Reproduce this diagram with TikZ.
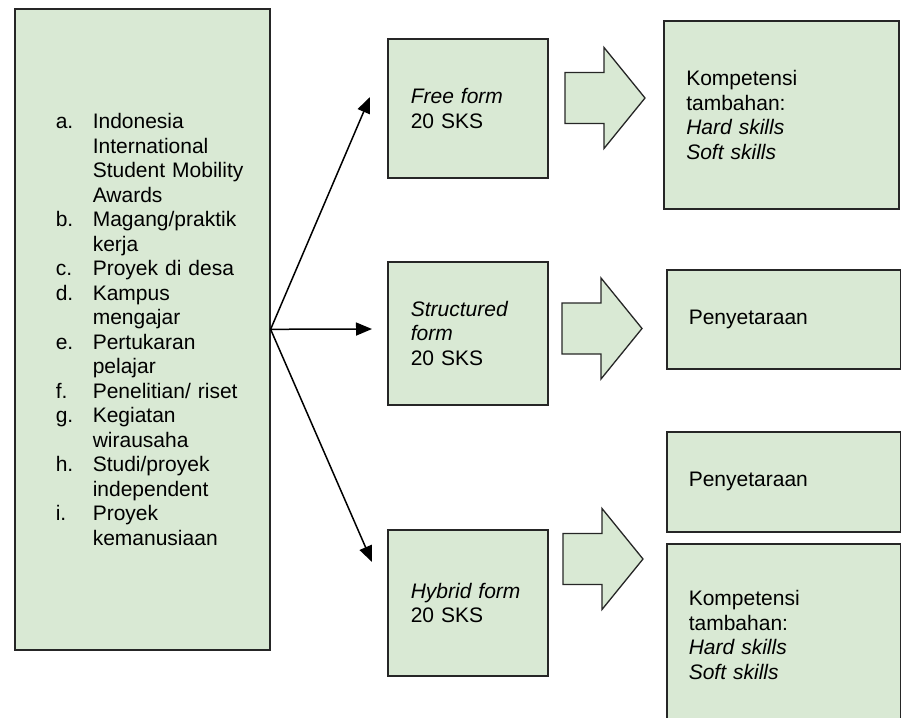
\documentclass[tikz,border=0pt]{standalone}
\usepackage{fontspec}
\setmainfont{Liberation Sans}
\usetikzlibrary{arrows.meta}
\definecolor{boxgreen}{RGB}{217,233,212}
\newcommand{\lbl}[1]{\hspace*{41pt}\makebox[37pt][l]{#1}}
\newcommand{\blockarrow}[1]{%
	\draw[blockarrow] (#1) ++(0,-25.5) -- ++(39,0) -- ++(0,-25) -- ++(41,50.5)
		-- ++(-41,50.5) -- ++(0,-25) -- ++(-39,0) -- cycle;}

\begin{document}
\begin{tikzpicture}[x=1pt,y=-1pt,
	every node/.style={font=\fontsize{21}{24.5}\selectfont},
	greenbox/.style={rectangle,draw=black!85,line width=1.6pt,fill=boxgreen,anchor=north west,align=left,inner sep=0pt},
	formbox/.style={greenbox,minimum width=160,text width=114,inner xsep=23pt},
	resultbox/.style={greenbox,text width=190,inner xsep=22pt},
	blockarrow/.style={draw=black!85,line width=1.3pt,fill=boxgreen,line join=miter},
	link/.style={line width=1.5pt,-{Triangle[length=16pt,width=13pt]}}]
	\useasboundingbox (0,0) rectangle (901,717);
	% kegiatan MBKM
	\node (list) at (14,8) [greenbox,minimum width=255,minimum height=641,text width=255] {%
		\lbl{a.}Indonesia\\
		\lbl{}International\\
		\lbl{}Student Mobility\\
		\lbl{}Awards\\
		\lbl{b.}Magang/praktik\\
		\lbl{}kerja\\
		\lbl{c.}Proyek di desa\\
		\lbl{d.}Kampus\\
		\lbl{}mengajar\\
		\lbl{e.}Pertukaran\\
		\lbl{}pelajar\\
		\lbl{f.}Penelitian/ riset\\
		\lbl{g.}Kegiatan\\
		\lbl{}wirausaha\\
		\lbl{h.}Studi/proyek\\
		\lbl{}independent\\
		\lbl{i.}Proyek\\
		\lbl{}kemanusiaan};
	% bentuk
	\node (free) at (387,38) [formbox,minimum height=139] {{\itshape Free form}\\20 SKS};
	\node (struct) at (387,261) [formbox,minimum height=143] {{\itshape Structured}\\{\itshape form}\\20 SKS};
	\node (hybrid) at (387,529) [formbox,minimum height=146] {{\itshape Hybrid form}\\20 SKS};
	% hasil
	\node (komp1) at (663,20) [resultbox,minimum width=235,minimum height=188] {Kompetensi\\tambahan:\\{\itshape Hard skills}\\{\itshape Soft skills}};
	\node (setara1) at (666,269) [resultbox,minimum width=234,minimum height=99] {Penyetaraan};
	\node (setara2) at (666,431) [resultbox,minimum width=233,minimum height=100] {Penyetaraan};
	\node (komp2) at (666,543) [resultbox,minimum width=233,minimum height=182] {Kompetensi\\tambahan:\\{\itshape Hard skills}\\{\itshape Soft skills}};
	% panah
	\coordinate (freetip) at (370,97);
	\coordinate (structtip) at (372,329);
	\coordinate (hybridtip) at (372,562);
	\draw [link] (list.east) -- (freetip);
	\draw [link] (list.east) -- (structtip);
	\draw [link] (list.east) -- (hybridtip);
	\coordinate (freearrow) at (565,98);
	\coordinate (structarrow) at (562,328.5);
	\coordinate (hybridarrow) at (563,559);
	\blockarrow{freearrow}
	\blockarrow{structarrow}
	\blockarrow{hybridarrow}
\end{tikzpicture}
\end{document}
